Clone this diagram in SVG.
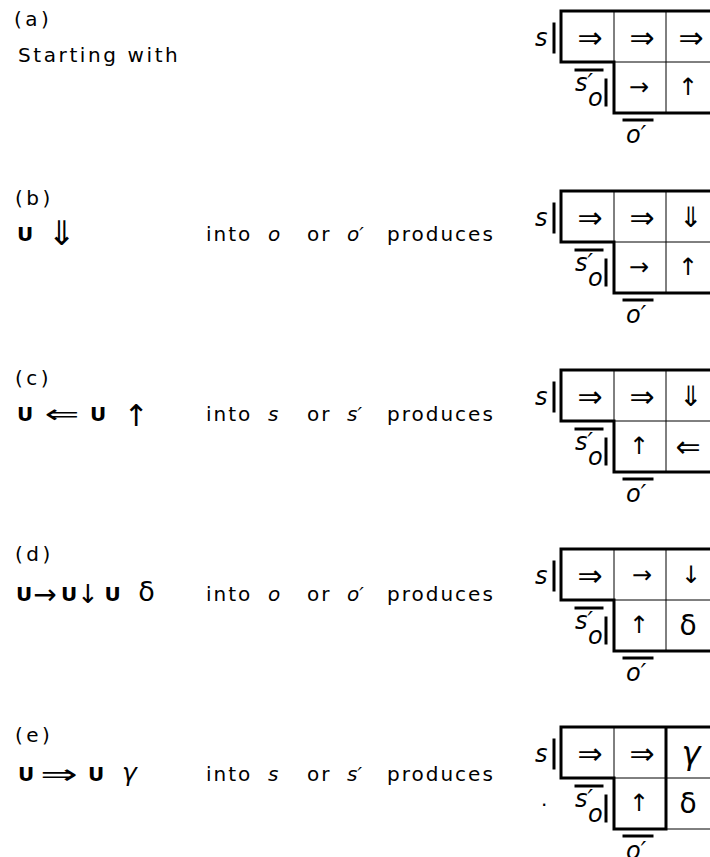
<svg xmlns="http://www.w3.org/2000/svg" xmlns:xlink="http://www.w3.org/1999/xlink" width="710" height="857" viewBox="0 0 710 857">
<style>
  .t { font-family: "DejaVu Sans", "Liberation Sans", sans-serif; font-size: 20px; fill: #000; letter-spacing: 2px; }
  .lab { font-family: "DejaVu Sans", "Liberation Sans", sans-serif; font-size: 20px; fill: #000; letter-spacing: 3.5px; }
  .it { font-style: italic; letter-spacing: 0; }
  .u { font-family: "DejaVu Sans", sans-serif; font-weight: bold; font-size: 20px; fill: #000; text-anchor: middle; }
  .sym { font-family: "DejaVu Sans", sans-serif; fill: #000; text-anchor: middle; dominant-baseline: central; }
  .gk { font-family: "DejaVu Sans", sans-serif; fill: #000; text-anchor: middle; }
  .cell { font-family: "DejaVu Sans", sans-serif; font-size: 24px; fill: #000; text-anchor: middle; dominant-baseline: central; }
  .dbl { font-size: 30px; }
  .vd { font-size: 28px; }
  .greek { font-family: "DejaVu Sans", sans-serif; font-size: 28px; fill: #000; text-anchor: middle; dominant-baseline: central; }
  .gl { font-family: "DejaVu Sans", sans-serif; font-style: italic; font-size: 24px; fill: #000; }
  .heavy { stroke: #000; stroke-width: 3; fill: none; stroke-linecap: square; }
  .thin { stroke: #000; stroke-width: 1; fill: none; }
</style>
<defs>
  <g id="labels">
    <text class="gl" x="-26" y="35">s</text>
    <path class="heavy" d="M-7,13 V41"/>
    <path class="heavy" d="M15,59 H41"/>
    <text class="gl" x="14" y="80">s′</text>
    <text class="gl" x="27" y="95">o</text>
    <path class="heavy" d="M45,69 V94"/>
    <path class="heavy" d="M63,109 H91"/>
    <text class="gl" x="65" y="132">o′</text>
  </g>
  <g id="frame">
    <path class="thin" d="M53,0 V51 M105,0 V102 M53,51 H150"/>
    <path class="heavy" d="M0,0 H150 M0,0 V51 H53 V102 H150"/>
  </g>
  <g id="frameE">
    <path class="thin" d="M53,0 V51 M53,51 H150 M105,102 H150"/>
    <path class="heavy" d="M0,0 H150 M0,0 V51 H53 V102 H105 M105,0 V102"/>
  </g>
</defs>

<g id="panel-a">
  <text class="lab" x="14" y="26">(a)</text>
  <text class="t" x="18" y="62" style="letter-spacing:2.6px">Starting  with</text>
  <g id="grid-a" transform="translate(561,11)">
    <use xlink:href="#frame"/>
    <use xlink:href="#labels"/>
    <text class="cell dbl" x="29" y="26">⇒</text>
    <text class="cell dbl" x="81" y="26">⇒</text>
    <text class="cell dbl" x="130" y="26">⇒</text>
    <text class="cell" x="78" y="76">→</text>
    <text class="cell" x="127" y="76">↑</text>
  </g>
</g>

<g id="panel-b">
  <text class="lab" x="15" y="205">(b)</text>
  <text class="u" x="25" y="241">U</text>
  <text class="sym" x="61.5" y="233" style="font-size:34px">⇓</text>
  <text class="t" x="206" y="241">into</text>
  <text class="t it" x="268" y="241">o</text>
  <text class="t" x="307" y="241">or</text>
  <text class="t it" x="347" y="241">o′</text>
  <text class="t" x="387" y="241">produces</text>
  <g id="grid-b" transform="translate(561,191)">
    <use xlink:href="#frame"/>
    <use xlink:href="#labels"/>
    <text class="cell dbl" x="29" y="26">⇒</text>
    <text class="cell dbl" x="81" y="26">⇒</text>
    <text class="cell vd" x="130" y="26">⇓</text>
    <text class="cell" x="78" y="76">→</text>
    <text class="cell" x="127" y="76">↑</text>
  </g>
</g>

<g id="panel-c">
  <text class="lab" x="15" y="385">(c)</text>
  <text class="u" x="25" y="421">U</text>
  <text class="sym" x="0" y="0" style="font-size:26px" transform="translate(62,414) scale(1.6,1)">⇐</text>
  <text class="u" x="98" y="421">U</text>
  <text class="sym" x="136" y="415" style="font-size:30px">↑</text>
  <text class="t" x="206" y="421">into</text>
  <text class="t it" x="268" y="421">s</text>
  <text class="t" x="307" y="421">or</text>
  <text class="t it" x="347" y="421">s′</text>
  <text class="t" x="387" y="421">produces</text>
  <g id="grid-c" transform="translate(561,370)">
    <use xlink:href="#frame"/>
    <use xlink:href="#labels"/>
    <text class="cell dbl" x="29" y="26">⇒</text>
    <text class="cell dbl" x="81" y="26">⇒</text>
    <text class="cell vd" x="130" y="26">⇓</text>
    <text class="cell" x="78" y="76">↑</text>
    <text class="cell dbl" x="127" y="76">⇐</text>
  </g>
</g>

<g id="panel-d">
  <text class="lab" x="15" y="561">(d)</text>
  <text class="u" x="24" y="601">U</text>
  <text class="sym" x="45" y="594" style="font-size:28px">→</text>
  <text class="u" x="69" y="601">U</text>
  <text class="sym" x="88" y="594" style="font-size:26px">↓</text>
  <text class="u" x="112.5" y="601">U</text>
  <text class="gk" x="146.5" y="601" style="font-size:27px">δ</text>
  <text class="t" x="206" y="601">into</text>
  <text class="t it" x="268" y="601">o</text>
  <text class="t" x="307" y="601">or</text>
  <text class="t it" x="347" y="601">o′</text>
  <text class="t" x="387" y="601">produces</text>
  <g id="grid-d" transform="translate(561,549)">
    <use xlink:href="#frame"/>
    <use xlink:href="#labels"/>
    <text class="cell dbl" x="29" y="26">⇒</text>
    <text class="cell" x="81" y="26">→</text>
    <text class="cell" x="130" y="26">↓</text>
    <text class="cell" x="78" y="76">↑</text>
    <text class="greek" x="127" y="76">δ</text>
  </g>
</g>

<g id="panel-e">
  <text class="lab" x="15" y="742">(e)</text>
  <text class="u" x="26" y="781">U</text>
  <text class="sym" x="0" y="0" style="font-size:28px" transform="translate(59,774) scale(1.6,1)">⇒</text>
  <text class="u" x="96" y="781">U</text>
  <text class="gk" x="129.5" y="781" style="font-size:25px;font-style:italic">γ</text>
  <text class="t" x="206" y="781">into</text>
  <text class="t it" x="268" y="781">s</text>
  <text class="t" x="307" y="781">or</text>
  <text class="t it" x="347" y="781">s′</text>
  <text class="t" x="387" y="781">produces</text>
  <text class="t" x="541" y="806">.</text>
  <g id="grid-e" transform="translate(561,727)">
    <use xlink:href="#frameE"/>
    <use xlink:href="#labels"/>
    <text class="cell dbl" x="29" y="26">⇒</text>
    <text class="cell dbl" x="81" y="26">⇒</text>
    <text class="greek" x="130" y="26" style="font-size:32px;font-style:italic">γ</text>
    <text class="cell" x="78" y="76">↑</text>
    <text class="greek" x="127" y="76">δ</text>
  </g>
</g>
</svg>
